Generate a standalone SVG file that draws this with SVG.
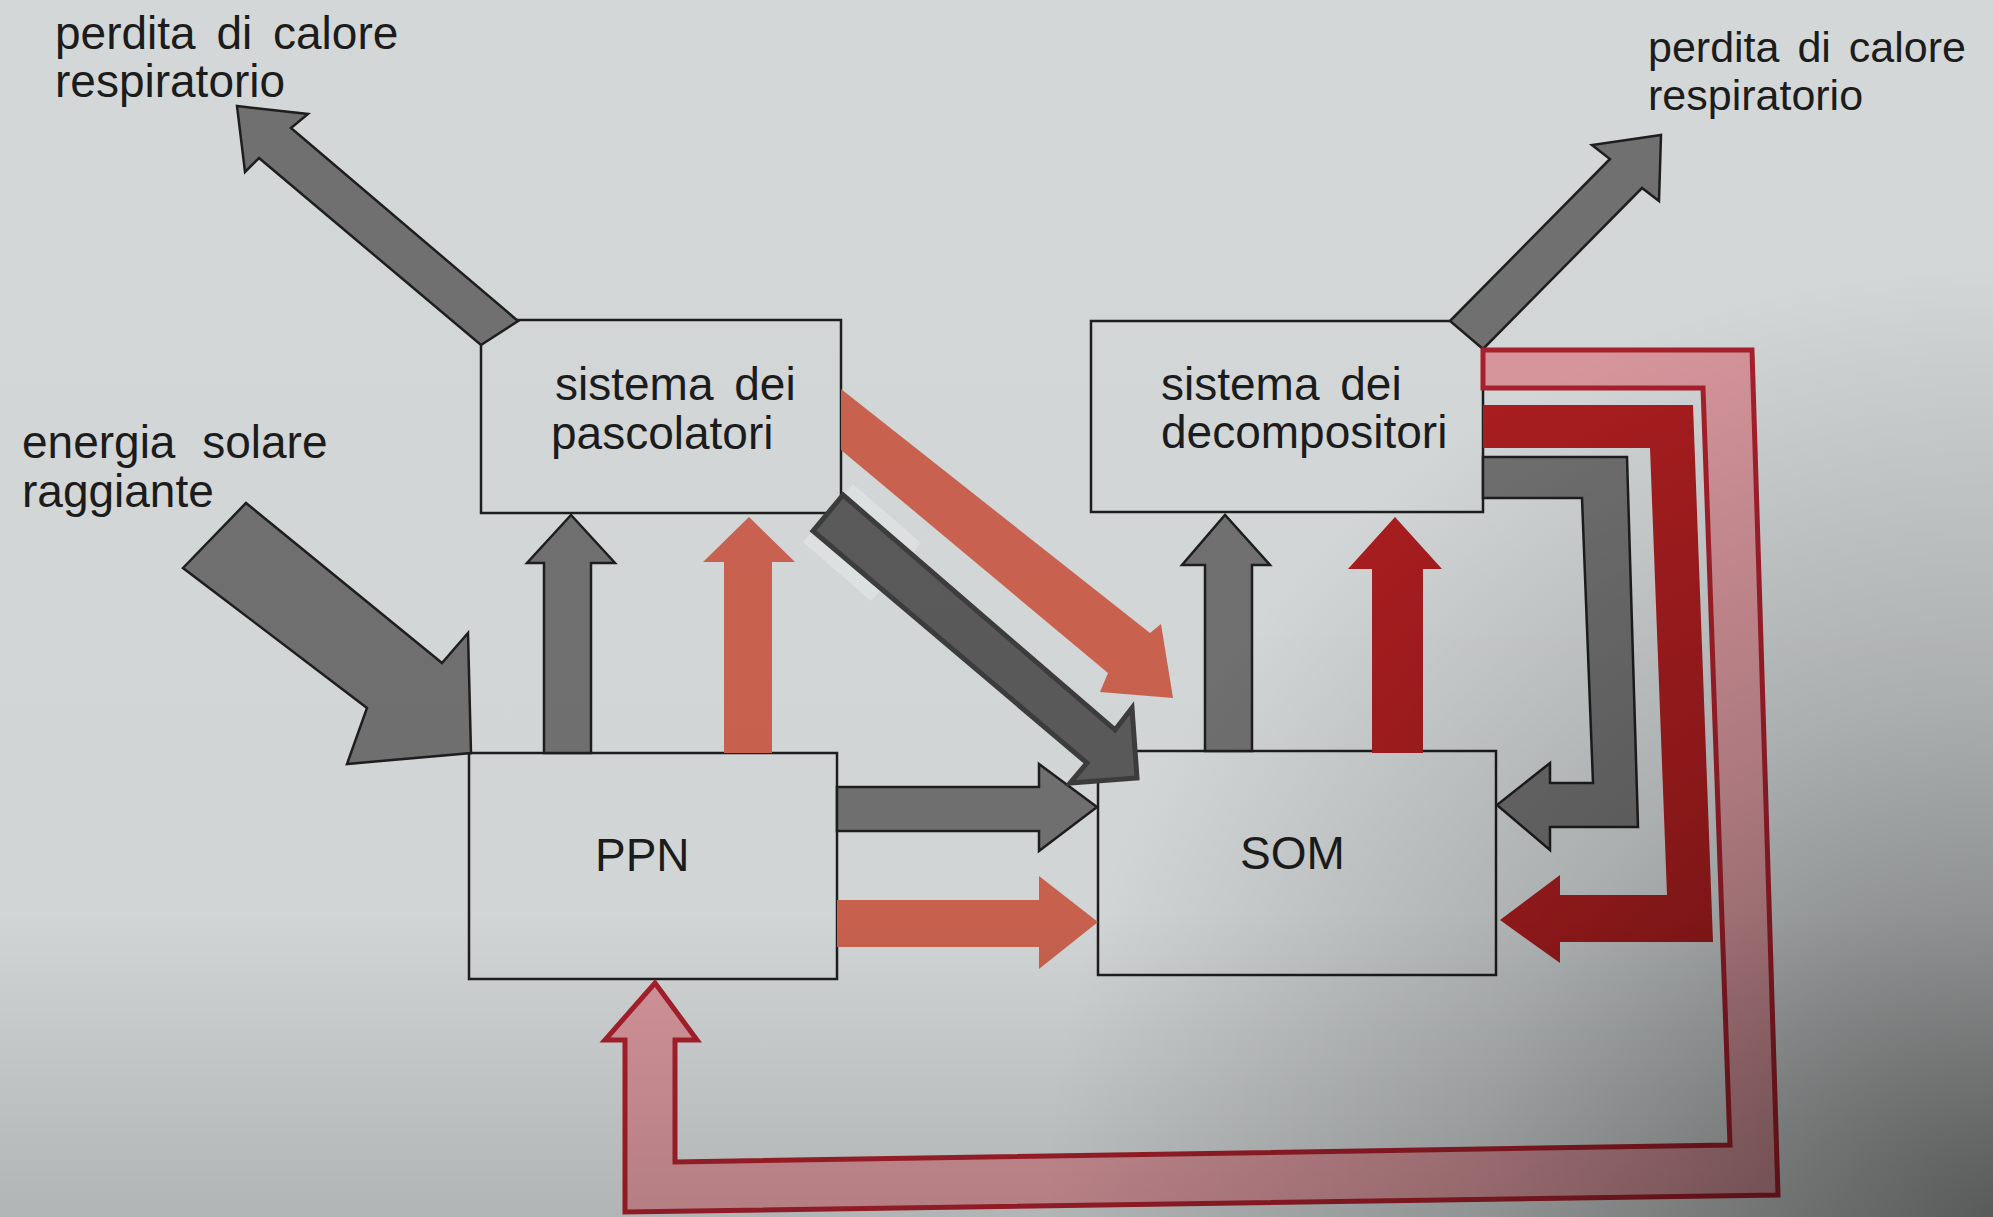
<svg xmlns="http://www.w3.org/2000/svg" width="1993" height="1217" viewBox="0 0 1993 1217">
<defs>
<style>
.box{fill:none;stroke:#1e1e1e;stroke-width:2.5}
.lbl{font-family:"Liberation Sans",Arial,Helvetica,sans-serif;font-size:46px;fill:#1c1c1c;word-spacing:8px}
.gray{fill:#707070;stroke:#1e1e1e;stroke-width:2.5;stroke-linejoin:miter}
.salmon{fill:#c9624f}
.red{fill:#a91d1f}
.pink{fill:#d6969c;stroke:#a8202c;stroke-width:5;stroke-linejoin:miter}
.edit{fill:#5a5a5a;stroke:#3c3c3c;stroke-width:5;stroke-linejoin:miter}
</style>
<linearGradient id="vshade" x1="0" y1="0" x2="0" y2="1217" gradientUnits="userSpaceOnUse">
<stop offset="0" stop-color="#000" stop-opacity="0"/>
<stop offset="0.75" stop-color="#000" stop-opacity="0.01"/>
<stop offset="1" stop-color="#000" stop-opacity="0.16"/>
</linearGradient>
<radialGradient id="corner" cx="1993" cy="1217" r="950" gradientUnits="userSpaceOnUse">
<stop offset="0" stop-color="#000" stop-opacity="0.5"/>
<stop offset="0.55" stop-color="#000" stop-opacity="0.18"/>
<stop offset="1" stop-color="#000" stop-opacity="0"/>
</radialGradient>
</defs>
<rect x="0" y="0" width="1993" height="1217" fill="#d3d7d7"/>

<g id="node-pascolatori">
<rect class="box" x="481" y="320" width="360" height="193"/>
<text class="lbl"><tspan x="555" y="400">sistema dei</tspan><tspan x="551" y="449">pascolatori</tspan></text>
</g>
<g id="node-decompositori">
<rect class="box" x="1091" y="321" width="392" height="191"/>
<text class="lbl"><tspan x="1161" y="400">sistema dei</tspan><tspan x="1161" y="448">decompositori</tspan></text>
</g>
<g id="node-ppn">
<rect class="box" x="469" y="753" width="368" height="226"/>
<text class="lbl" x="595" y="871">PPN</text>
</g>
<g id="node-som">
<rect class="box" x="1098" y="751" width="398" height="224"/>
<text class="lbl" x="1240" y="869">SOM</text>
</g>

<g id="label-heat-left">
<text class="lbl"><tspan x="55" y="49">perdita di calore</tspan><tspan x="55" y="97">respiratorio</tspan></text>
</g>
<g id="label-heat-right">
<text class="lbl" style="font-size:43px;word-spacing:6px"><tspan x="1648" y="62">perdita di calore</tspan><tspan x="1648" y="110">respiratorio</tspan></text>
</g>
<g id="label-solar">
<text class="lbl"><tspan x="22" y="458" style="word-spacing:14px">energia solare</tspan><tspan x="22" y="507">raggiante</tspan></text>
</g>

<g id="connectors">
<!-- heat loss from grazers -->
<polygon class="gray" points="237,106 308,114 291,128 518,321 481,345 259,158 245,172"/>
<!-- heat loss from decomposers -->
<polygon class="gray" points="1450,321 1610,159 1592,145 1661,135 1659,201 1642,188 1483,349"/>
<!-- solar energy into PPN -->
<polygon class="gray" points="246,503 442,663 468,633 471,753 347,764 367,708 183,568"/>
<!-- PPN to grazers -->
<polygon class="gray" points="544,753 544,563 527,563 571,515 615,563 591,563 591,753"/>
<polygon class="salmon" points="724,753 724,562 703,562 749,517 795,562 772,562 772,753"/>
<!-- PPN to SOM -->
<polygon class="gray" points="837,787 1039,787 1039,764 1097,807 1039,851 1039,831 837,831"/>
<polygon class="salmon" points="837,900 1039,900 1039,876 1098,922 1039,969 1039,947 837,947"/>
<!-- SOM to decomposers -->
<polygon class="gray" points="1205,751 1205,565 1182,565 1225,515 1270,565 1252,565 1252,751"/>
<polygon class="red" points="1372,753 1372,569 1348,569 1395,517 1442,569 1423,569 1423,753"/>
<!-- grazers to SOM (salmon diagonal) -->
<polygon class="salmon" points="841,389 1150,633 1161,624 1173,698 1100,692 1108,673 841,450"/>
<!-- decomposers loops back to SOM -->
<polygon class="gray" points="1483,457 1627,457 1638,827 1550,827 1550,850 1497,805 1550,763 1550,783 1593,783 1582,498 1483,498"/>
<polygon class="red" points="1483,405 1693,405 1713,942 1560,942 1560,963 1500,920 1560,875 1560,895 1667,895 1650,448 1483,448"/>
<!-- decomposers to PPN (outer pink loop) -->
<polygon class="pink" points="1483,350 1752,350 1778,1195 625,1212 625,1040 605,1040 655,983 697,1040 675,1040 675,1162 1730,1145 1703,388 1483,388"/>
<!-- edited gray arrow grazers to SOM -->
<polygon points="853,484 921,543 871,601 803,542" fill="#dfe3e3" opacity="0.85"/>
<polygon class="edit" points="843,495 1115,730 1132,708 1137,778 1070,783 1087,763 813,531"/>
</g>

<rect x="0" y="0" width="1993" height="1217" fill="url(#vshade)" pointer-events="none"/>
<rect x="0" y="0" width="1993" height="1217" fill="url(#corner)" pointer-events="none"/>
</svg>
